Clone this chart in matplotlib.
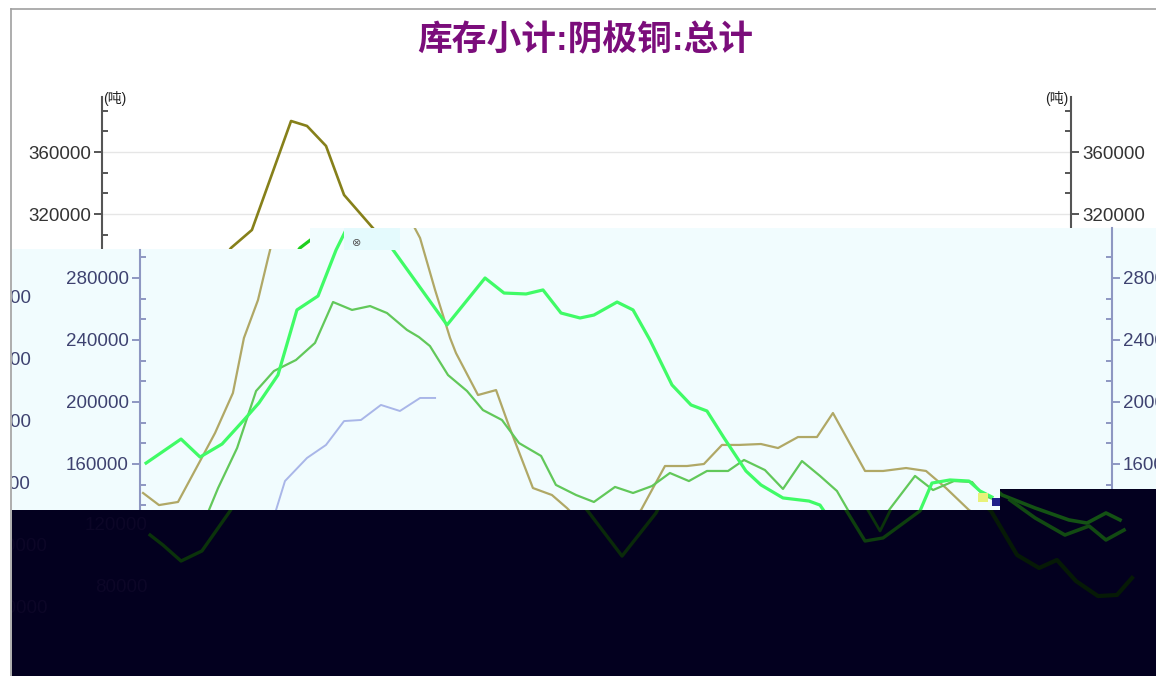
import matplotlib
matplotlib.use("Agg")
import matplotlib.pyplot as plt
from matplotlib.patches import Polygon, Rectangle
from matplotlib.lines import Line2D
from matplotlib.ticker import FixedLocator

plt.rcParams['font.family'] = ['Liberation Sans', 'Noto Sans CJK SC', 'DejaVu Sans']

title = '库存小计:阴极铜:总计'
unit = '(吨)'

# x in weeks, y in tonnes
top_ticks = [320000, 360000]
top_tick_labels = ['320000', '360000']
top_minor = [293333, 306667, 333333, 346667, 373333, 386667]
mid_ticks = [80000, 120000, 160000, 200000, 240000, 280000]
mid_tick_labels = ['80000', '120000', '160000', '200000', '240000', '280000']
mid_minor = [133333, 146667, 173333, 186667, 213333, 226667, 253333, 266667, 293333]

top_olive_t = [5.95, 6.79, 7.89, 9.95, 10.79, 11.79, 12.74, 14.21, 15.68]
top_olive_v = [283900, 298100, 309700, 380000, 376800, 363900, 332300, 311600, 291600]
top_green_t = [9.89, 10.42, 11.32, 12.84, 13.16, 14.63]
top_green_v = [289000, 298100, 306500, 305800, 303200, 287100]

a_t = [2.32, 4.16, 5.16, 6.32, 7.47, 8.26, 9.26, 10.26, 11.37, 12.32, 13.05, 14.37, 14.89, 15.32,
       18.16, 20.16, 21.16, 22.32, 23.21, 24.16, 25.16, 25.89, 27.11, 27.95, 28.84, 30.0, 31.0,
       31.84, 32.74, 33.89, 34.68, 35.84, 37.21, 37.79, 38.32, 40.16, 41.11, 43.05, 43.68, 44.63,
       45.63, 46.21, 46.84]
a_v = [160600, 176100, 164500, 172900, 188400, 199400, 217400, 259400, 268400, 298100, 316100,
       316100, 305800, 298100, 249700, 280000, 270300, 269700, 272300, 257400, 254200, 256100,
       264500, 259400, 240000, 211000, 198100, 194200, 176800, 155500, 146500, 138100, 136100,
       133500, 123900, 110300, 112300, 129700, 147700, 149700, 149000, 142600, 138700]

b_t = [5.42, 5.63, 6.11, 7.11, 8.11, 9.05, 10.21, 11.21, 12.16, 13.16, 14.11, 15.0, 16.05, 16.68,
       17.26, 18.21, 19.21, 20.05, 21.05, 21.95, 23.11, 23.89, 24.95, 25.89, 27.0, 27.95, 28.95,
       29.89, 30.89, 31.84, 32.95, 33.79, 34.89, 35.84, 36.84, 37.79, 38.68, 39.26, 40.32, 41.42,
       42.79, 43.74, 44.84, 45.79, 46.37, 47.0]
b_v = [123900, 130300, 144500, 170300, 207100, 220000, 227100, 238100, 264500, 259400, 261900,
       257400, 246500, 241900, 236100, 217400, 207100, 194800, 188400, 173500, 165200, 146500,
       140000, 135500, 145200, 141300, 145800, 154200, 149000, 155500, 155500, 162600, 156100,
       143900, 161900, 152300, 142600, 130300, 114200, 130300, 152300, 143200, 149000, 148400,
       140000, 136800]

c_t = [2.16, 3.0, 4.0, 5.16, 5.95, 6.89, 7.47, 8.21, 8.74, 9.11, 10.42, 14.63, 15.68, 16.74,
       17.53, 18.32, 18.63, 19.79, 20.74, 21.42, 22.68, 23.68, 24.47, 26.42, 28.37, 29.63, 30.79,
       31.68, 32.63, 33.53, 34.68, 35.58, 36.63, 37.63, 38.47, 40.16, 41.11, 42.32, 43.37, 44.42,
       45.63, 46.47]
c_v = [141300, 133500, 135500, 161900, 180000, 205800, 241300, 265800, 292900, 311000, 362600,
       362600, 330300, 305800, 272300, 241300, 231600, 204500, 207700, 184500, 144500, 140000,
       131600, 107700, 130300, 158700, 158700, 160000, 172300, 172300, 172900, 170300, 177400,
       177400, 192900, 155500, 155500, 157400, 155500, 144500, 130300, 123900]

d_t = [8.84, 9.16, 9.63, 10.79, 11.79, 12.74, 13.63, 14.68, 15.68, 16.74, 17.53]
d_v = [117400, 130300, 149000, 163900, 172300, 187700, 188400, 198100, 194200, 202600, 202600]

dark1_t = [2.53, 3.21, 4.16, 5.26, 6.74, 7.26]
dark1_v = [114200, 107700, 97400, 103900, 129700, 140000]
dark2_t = [24.89, 25.53, 27.37, 29.16, 29.63]
dark2_v = [140000, 130300, 100600, 128400, 140000]
dark3_t = [38.74, 39.16, 40.16, 41.11, 43.05, 43.58]
dark3_v = [140000, 130300, 110300, 112300, 129700, 140000]
dark4_t = [40.0, 40.95, 41.63]
dark4_v = [136800, 116800, 133500]
dark5_t = [47.0, 47.37, 49.11, 50.89, 51.84, 52.84, 53.58]
dark5_v = [143900, 140000, 131600, 123900, 121900, 128400, 123900]
dark6_t = [47.79, 49.11, 50.68, 51.95, 52.84, 53.79]
dark6_v = [136800, 125200, 114200, 120000, 111000, 117400]
dark7_t = [46.47, 46.79, 48.16, 49.32, 50.26, 51.26, 52.42, 53.42, 54.21]
dark7_v = [133500, 129700, 101300, 92900, 98100, 84500, 74800, 75500, 86500]

W, H = 1156, 676
fig = plt.figure(figsize=(W / 100, H / 100), dpi=100)


def box(x0, y0, x1, y1):
    return [x0 / W, 1 - y1 / H, (x1 - x0) / W, (y1 - y0) / H]


def pts(xy):
    return [(x / W, 1 - y / H) for x, y in xy]


def t_of(px):
    return (px - 102) / 19.0


def v_top(py):
    return 360000 + (152 - py) * 40000 / 62.0


def v_mid(py):
    return 280000 + (278 - py) * 40000 / 62.0


# ---- upper (white) layer
ax_top = fig.add_axes(box(102, 97, 1071, 300), zorder=1)
ax_top.plot(top_olive_t, top_olive_v, color='#86801a', lw=1.9)
ax_top.plot(top_green_t, top_green_v, color='#1fcf1f', lw=2.3)
ax_top.set_xticks([])
ax_top.set_yticks(top_ticks, labels=top_tick_labels)
ax_top.yaxis.set_minor_locator(FixedLocator(top_minor))
ax_top.set_xlim(t_of(102), t_of(1071))
ax_top.set_ylim(v_top(300), v_top(97))
for s in ['top', 'bottom']:
    ax_top.spines[s].set_visible(False)
for s in ['left', 'right']:
    ax_top.spines[s].set_color('#555555')
    ax_top.spines[s].set_linewidth(1.5)
ax_top.tick_params(axis='y', which='major', direction='out', length=6, width=1.4, color='#555555',
                   labelcolor='#333333', labelsize=13.5, left=True, right=True,
                   labelleft=True, labelright=True, pad=2)
ax_top.tick_params(axis='y', which='minor', direction='in', length=4.5, width=1.4,
                   color='#555555', left=True, right=True)
ax_top.grid(axis='y', which='major', color='#e6e6e6', lw=1.0)
ax_top.set_axisbelow(True)

# ---- middle (light cyan) layer
ax_mid = fig.add_axes(box(12, 228, 1156, 510), zorder=2)
ax_mid.patch.set_visible(False)
mid_bg = Polygon(pts([(12, 249), (310, 249), (310, 228), (1156, 228), (1156, 510), (12, 510)]),
                 closed=True, transform=fig.transFigure, facecolor='#f1fcfe',
                 edgecolor='none', zorder=0)
ax_mid.add_patch(mid_bg)
for t, v, col, lw in [(d_t, d_v, '#a9b6e8', 1.4), (c_t, c_v, '#b0a866', 1.6),
                      (b_t, b_v, '#62c85a', 1.6), (a_t, a_v, '#40fb66', 2.3)]:
    ln, = ax_mid.plot(t, v, color=col, lw=lw)
    ln.set_clip_path(mid_bg)
ax_mid.set_xticks([])
ax_mid.set_yticks(mid_ticks, labels=mid_tick_labels)
ax_mid.yaxis.set_minor_locator(FixedLocator(mid_minor))
ax_mid.set_xlim(t_of(12), t_of(1156))
ax_mid.set_ylim(v_mid(510), v_mid(228))
for s in ['top', 'bottom']:
    ax_mid.spines[s].set_visible(False)
ax_mid.spines['left'].set_position(('data', t_of(140)))
ax_mid.spines['right'].set_position(('data', t_of(1112)))
ax_mid.spines['left'].set_bounds(v_mid(510), v_mid(250))
ax_mid.spines['right'].set_bounds(v_mid(510), v_mid(228))
for s in ['left', 'right']:
    ax_mid.spines[s].set_color('#8e97c2')
    ax_mid.spines[s].set_linewidth(1.5)
ax_mid.tick_params(axis='y', which='major', direction='out', length=6, width=1.4, color='#8e97c2',
                   labelcolor='#3e4270', labelsize=13.5, left=True, right=True,
                   labelleft=True, labelright=True, pad=2)
ax_mid.tick_params(axis='y', which='minor', direction='in', length=4.5, width=1.4,
                   color='#8e97c2', left=True, right=True)
# shifted copy of the labels, cut by the left edge
for v, lab in zip(mid_ticks, mid_tick_labels):
    if v >= 160000:
        ax_mid.text(t_of(31), v - 13333, lab, ha='right', va='center', fontsize=13.5,
                    color='#3e4270', clip_on=True)

# ---- lower (dark) layer
ax_dark = fig.add_axes(box(12, 489, 1156, 676), zorder=3)
ax_dark.axis('off')
dark_bg = Polygon(pts([(12, 510), (1000, 510), (1000, 489), (1156, 489), (1156, 676), (12, 676)]),
                  closed=True, transform=fig.transFigure, facecolor='#03001f',
                  edgecolor='none', zorder=0)
ax_dark.add_patch(dark_bg)
for t, v, col, lw in [(dark1_t, dark1_v, '#0b330b', 2.4), (dark2_t, dark2_v, '#0a2a0a', 2.4),
                      (dark3_t, dark3_v, '#0e3f0e', 2.4), (dark4_t, dark4_v, '#0b330b', 2.0),
                      (dark5_t, dark5_v, '#145214', 2.6), (dark6_t, dark6_v, '#124a12', 2.6),
                      (dark7_t, dark7_v, '#061a06', 3.0)]:
    ln, = ax_dark.plot(t, v, color=col, lw=lw)
    ln.set_clip_path(dark_bg)
ax_dark.set_xlim(t_of(12), t_of(1156))
ax_dark.set_ylim(v_mid(676), v_mid(489))
for v, lab in zip(mid_ticks, mid_tick_labels):
    if v <= 120000:
        ax_dark.text(t_of(148), v, lab, ha='right', va='center', fontsize=13.5,
                     color='#0c0627', clip_on=True)
        ax_dark.text(t_of(48), v - 13333, lab, ha='right', va='center', fontsize=13.5,
                     color='#0c0627', clip_on=True)

# ---- small artefacts
fig.add_artist(Rectangle((344 / W, 1 - 250 / H), 56 / W, 22 / H, transform=fig.transFigure,
                         facecolor='#e4fafd', edgecolor='none', zorder=2.5))
fig.text(357 / W, 1 - 243 / H, '⊗', fontsize=8, color='#555555', ha='center', va='center',
         family=['DejaVu Sans'], zorder=2.6)
fig.add_artist(Rectangle((978 / W, 1 - 502 / H), 10 / W, 9 / H, transform=fig.transFigure,
                         facecolor='#e8f27a', edgecolor='none', zorder=3.5))
fig.add_artist(Rectangle((992 / W, 1 - 506 / H), 8 / W, 8 / H, transform=fig.transFigure,
                         facecolor='#20208a', edgecolor='none', zorder=3.5))

# ---- title, units, frame
fig.text(585 / W, 1 - 41 / H, title, ha='center', va='center', fontsize=25,
         fontweight='black', color='#7b0d7b', zorder=5)
fig.text(103 / W, 1 - 98 / H, unit, ha='left', va='center', fontsize=10, color='#222222', zorder=5)
fig.text(1068 / W, 1 - 98 / H, unit, ha='right', va='center', fontsize=10, color='#222222', zorder=5)
fig.add_artist(Line2D([11 / W, 1], [1 - 9 / H, 1 - 9 / H], transform=fig.transFigure,
                      color='#a0a0a0', lw=1.2, zorder=10))
fig.add_artist(Line2D([11 / W, 11 / W], [0, 1 - 9 / H], transform=fig.transFigure,
                      color='#a0a0a0', lw=1.2, zorder=10))

fig.savefig('out.png', dpi=100, facecolor='white')
